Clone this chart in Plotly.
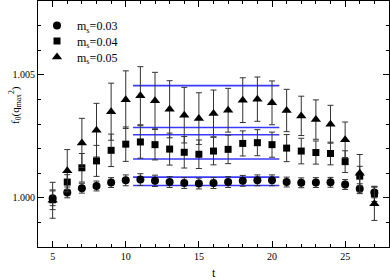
import plotly.graph_objects as go

t = list(range(5, 28))

f_m003 = [0.99998, 1.00022, 1.00039, 1.00048, 1.00062, 1.00071, 1.00074, 1.00069, 1.00064, 1.00060,
          1.00058, 1.00060, 1.00064, 1.00069, 1.00071, 1.00071, 1.00064, 1.00061, 1.00062, 1.00063,
          1.00054, 1.00037, 1.00022]
e_m003 = [0.00030, 0.00022, 0.00020, 0.00020, 0.00020, 0.00022, 0.00024, 0.00023, 0.00022, 0.00022,
          0.00022, 0.00022, 0.00022, 0.00022, 0.00022, 0.00022, 0.00020, 0.00020, 0.00020, 0.00020,
          0.00020, 0.00020, 0.00022]

f_m004 = [0.99992, 1.00064, 1.00122, 1.00150, 1.00193, 1.00218, 1.00227, 1.00216, 1.00198, 1.00185,
          1.00177, 1.00190, 1.00197, 1.00221, 1.00224, 1.00216, 1.00202, 1.00190, 1.00184, 1.00180,
          1.00147, 1.00088, 1.00016]
e_m004 = [0.00040, 0.00030, 0.00058, 0.00063, 0.00066, 0.00070, 0.00066, 0.00062, 0.00065, 0.00064,
          0.00058, 0.00056, 0.00058, 0.00051, 0.00053, 0.00051, 0.00055, 0.00052, 0.00047, 0.00046,
          0.00044, 0.00040, 0.00031]

f_m005 = [0.99990, 1.00110, 1.00223, 1.00275, 1.00350, 1.00399, 1.00415, 1.00395, 1.00360, 1.00336,
          1.00322, 1.00343, 1.00356, 1.00397, 1.00401, 1.00386, 1.00355, 1.00333, 1.00318, 1.00299,
          1.00236, 1.00100, 0.99976]
e_m005 = [0.00073, 0.00086, 0.00100, 0.00109, 0.00116, 0.00117, 0.00118, 0.00115, 0.00116, 0.00113,
          0.00105, 0.00095, 0.00089, 0.00091, 0.00090, 0.00089, 0.00086, 0.00080, 0.00080, 0.00077,
          0.00072, 0.00076, 0.00068]

fit_t = [10.5, 20.5]
fit_bands = [1.00456, 1.00286, 1.00256, 1.00158, 1.00084, 1.00050]

labels = ["m<sub>s</sub>=0.03", "m<sub>s</sub>=0.04", "m<sub>s</sub>=0.05"]

fig = go.Figure()

for yv in fit_bands:
    fig.add_trace(go.Scatter(x=fit_t, y=[yv, yv], mode="lines",
                             line=dict(color="#3a3aff", width=1.6),
                             showlegend=False, hoverinfo="skip"))

series = [(f_m003, e_m003, "circle", 8), (f_m004, e_m004, "square", 7), (f_m005, e_m005, "triangle-up", 9)]
legend_ids = ["legend", "legend2", "legend3"]
for (yv, ev, sym, sz), lab, lid in zip(series, labels, legend_ids):
    fig.add_trace(go.Scatter(
        x=t, y=yv, mode="markers", name=lab, legend=lid,
        marker=dict(symbol=sym, size=sz, color="black"),
        error_y=dict(type="data", array=ev, visible=True, color="#333333", thickness=1, width=3),
    ))

axis_common = dict(showline=True, linecolor="black", linewidth=1, mirror="ticks",
                   ticks="inside", tickcolor="black", ticklen=6, tickwidth=1,
                   showgrid=False, zeroline=False,
                   tickfont=dict(family="Liberation Serif", size=10, color="black"))

fig.update_xaxes(range=[4, 28], tick0=0, dtick=5,
                 minor=dict(ticks="inside", dtick=1, ticklen=3, tickcolor="black", showgrid=False),
                 **axis_common)
fig.update_yaxes(range=[0.998, 1.008], tick0=1.0, dtick=0.005, tickformat=".3f",
                 minor=dict(ticks="inside", dtick=0.001, ticklen=3, tickcolor="black", showgrid=False),
                 **axis_common)

fig.add_annotation(text="t", xref="paper", yref="paper", x=0.5, y=(247 - 273) / 246,
                   showarrow=False, xanchor="center", yanchor="middle",
                   font=dict(family="Liberation Serif", size=12, color="black"))
fig.add_annotation(text="f<sub>0</sub>(q<sub>max</sub><sup>2</sup>)", xref="paper", yref="paper",
                   x=(15 - 38) / 351, y=(247 - 105) / 246, textangle=-90,
                   showarrow=False, xanchor="center", yanchor="middle",
                   font=dict(family="Liberation Serif", size=11, color="black"))

leg_font = dict(family="Liberation Serif", size=12, color="black")
leg_x = (37 - 38) / 351
leg_common = dict(x=leg_x, xanchor="left", yanchor="top", bgcolor="rgba(0,0,0,0)",
                  font=leg_font, itemwidth=30)

fig.update_layout(
    width=390, height=280,
    margin=dict(l=38, r=1, t=1, b=33),
    paper_bgcolor="white", plot_bgcolor="white",
    legend=dict(y=(247 - 11) / 246, **leg_common),
    legend2=dict(y=(247 - 26.5) / 246, **leg_common),
    legend3=dict(y=(247 - 42.5) / 246, **leg_common),
)

fig.write_html("out.html", config={"displayModeBar": False},
               post_script="document.body.style.margin='0';document.body.style.padding='0';")
